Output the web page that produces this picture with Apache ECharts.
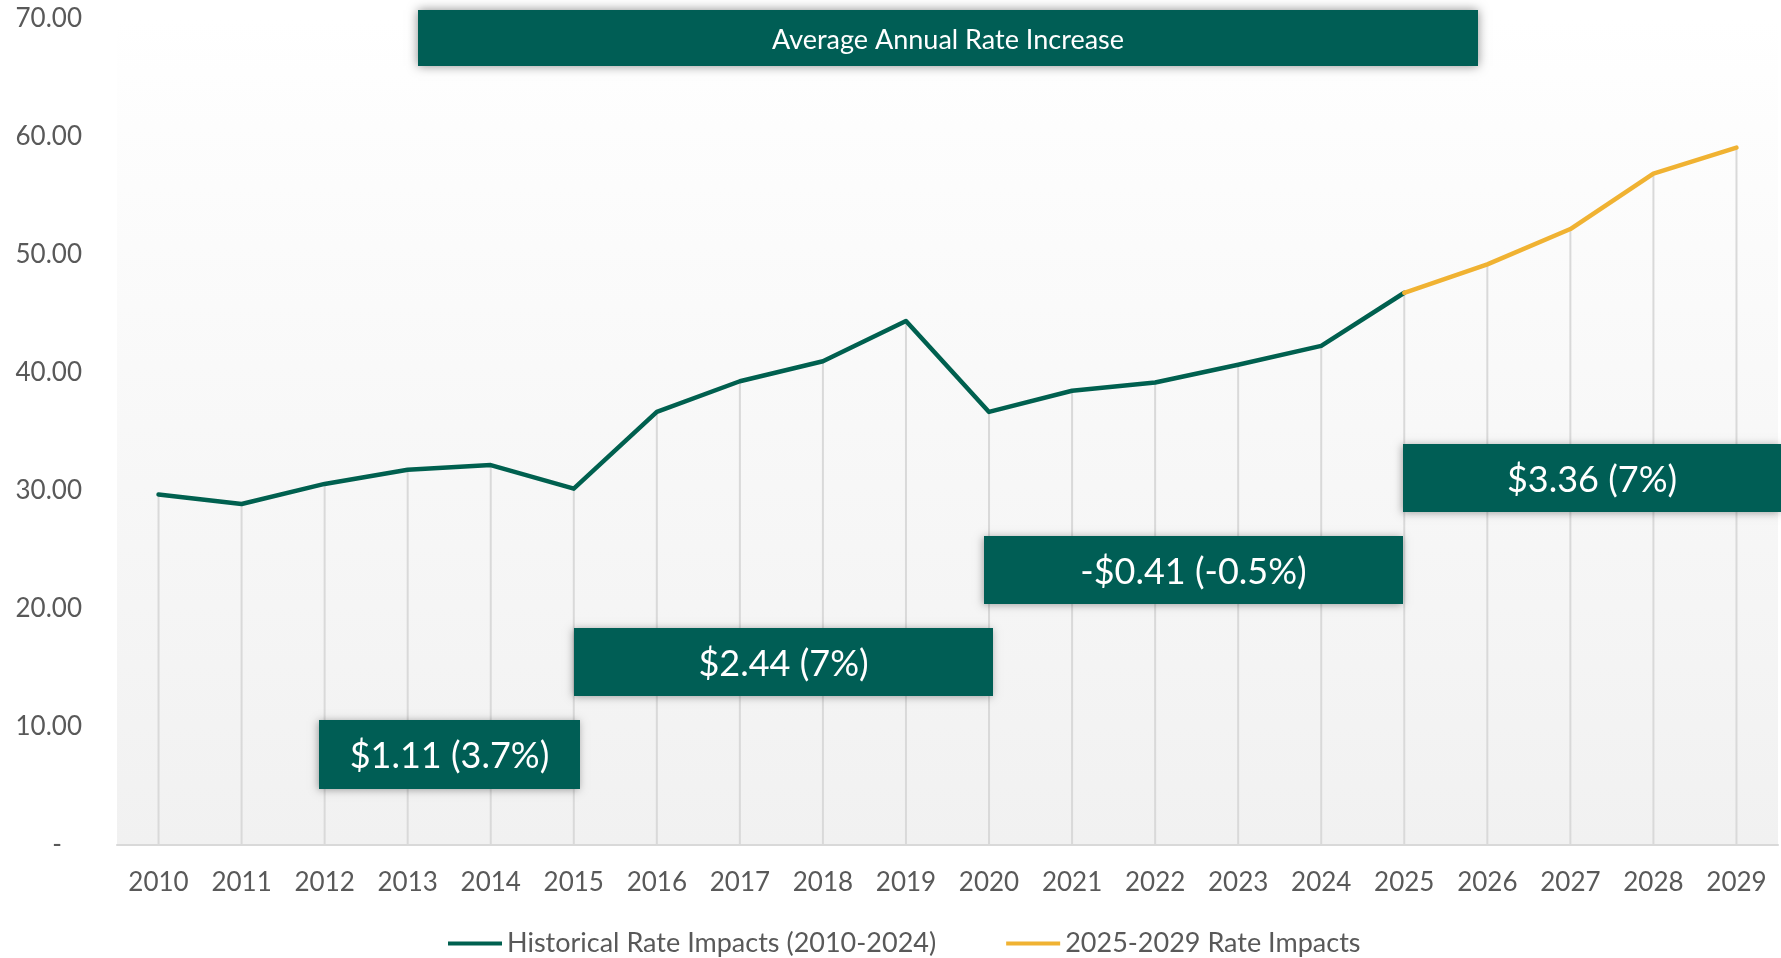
<!DOCTYPE html>
<html>
<head>
<meta charset="utf-8">
<script src="https://cdn.jsdelivr.net/npm/echarts@6/dist/echarts.min.js"></script>
<style>
  html, body { margin: 0; padding: 0; background: #fff; }
  #chart { width: 1781px; height: 958px; }
</style>
</head>
<body>
<div id="chart"></div>
<script>
// categories and values
const years = ['2010', '2011', '2012', '2013', '2014', '2015', '2016', '2017', '2018', '2019',
  '2020', '2021', '2022', '2023', '2024', '2025', '2026', '2027', '2028', '2029']
// historical line runs 2010..2025 (joins the projection at 2025)
const historical = [29.7, 28.9, 30.6, 31.8, 32.2, 30.2, 36.7, 39.3, 41.0, 44.4,
  36.7, 38.5, 39.2, 40.7, 42.3, 46.8]
// projected line 2025..2029
const projected = [46.8, 49.2, 52.2, 56.9, 59.1]
const yTicks = [0, 10, 20, 30, 40, 50, 60, 70]
const seriesNames = ['Historical Rate Impacts (2010-2024)', '2025-2029 Rate Impacts']
const titleText = 'Average Annual Rate Increase'
const boxLabels = ['$1.11 (3.7%)', '$2.44 (7%)', '-$0.41 (-0.5%)', '$3.36 (7%)']

const GREEN = '#00604f'
const BOX = '#005e55'
const ORANGE = '#f0b232'
const FONT = 'Lato, "Open Sans", sans-serif'

const histData = years.map((y, i) => i < historical.length ? historical[i] : '-')
const projStart = years.length - projected.length
const projData = years.map((y, i) => i >= projStart ? projected[i - projStart] : '-')
const allValues = years.map((y, i) => i >= projStart ? projected[i - projStart] : historical[i])

// box placement (pixels): x, y, w, h
const boxRects = [
  [319, 720, 261, 69],
  [574, 628, 419, 68],
  [984, 536, 419, 68],
  [1403, 444, 378, 68]
]

const chart = echarts.init(document.getElementById('chart'))

const boxShadow = { shadowBlur: 8, shadowColor: 'rgba(0,0,0,0.35)', shadowOffsetX: -1, shadowOffsetY: 1 }

const graphics = [
  {
    type: 'rect',
    shape: { x: 418, y: 10, width: 1060, height: 56 },
    style: { fill: BOX, shadowBlur: 10, shadowColor: 'rgba(0,0,0,0.45)' },
    z: 100
  },
  {
    type: 'text',
    x: 948, y: 40,
    style: { text: titleText, fill: '#fff', font: '27px ' + FONT, textAlign: 'center', textVerticalAlign: 'middle' },
    z: 101
  }
]
boxRects.forEach((r, i) => {
  graphics.push({
    type: 'rect',
    shape: { x: r[0], y: r[1], width: r[2], height: r[3] },
    style: Object.assign({ fill: BOX }, boxShadow),
    z: 100
  })
  graphics.push({
    type: 'text',
    x: r[0] + r[2] / 2, y: r[1] + r[3] / 2 + 2,
    style: { text: boxLabels[i], fill: '#fff', font: '36px ' + FONT, textAlign: 'center', textVerticalAlign: 'middle' },
    z: 101
  })
})

const option = {
  animation: false,
  backgroundColor: '#fff',
  textStyle: { fontFamily: FONT },
  grid: {
    left: 117, right: 3, top: 19, bottom: 113,
    show: true,
    borderWidth: 0,
    backgroundColor: new echarts.graphic.LinearGradient(0, 0, 0, 1, [
      { offset: 0, color: '#ffffff' },
      { offset: 0.13, color: '#fdfdfd' },
      { offset: 1, color: '#f1f1f1' }
    ])
  },
  legend: {
    data: seriesNames,
    left: 443,
    top: 925,
    icon: 'rect',
    itemWidth: 54,
    itemHeight: 4,
    itemGap: 70,
    textStyle: { color: '#595959', fontSize: 27, fontFamily: FONT }
  },
  xAxis: {
    type: 'category',
    data: years,
    boundaryGap: true,
    axisLine: { lineStyle: { color: '#d9d9d9', width: 2 } },
    axisTick: { show: false },
    axisLabel: { color: '#595959', fontSize: 26, margin: 25, fontFamily: FONT },
    splitLine: { show: false }
  },
  yAxis: {
    type: 'value',
    min: yTicks[0],
    max: yTicks[yTicks.length - 1],
    interval: 10,
    axisLine: { show: false },
    axisTick: { show: false },
    splitLine: { show: false },
    axisLabel: {
      color: '#595959', fontSize: 26, margin: 35, fontFamily: FONT,
      formatter: v => v === 0 ? '-   ' : v.toFixed(2)
    }
  },
  graphic: graphics,
  series: [
    {
      // drop lines from each point to the axis
      name: 'drop',
      type: 'bar',
      data: allValues,
      barWidth: 2,
      silent: true,
      itemStyle: { color: '#d9d9d9' },
      z: 1
    },
    {
      name: seriesNames[0],
      type: 'line',
      data: histData,
      symbol: 'none',
      lineStyle: { color: GREEN, width: 4.5, cap: 'round', join: 'round' },
      itemStyle: { color: GREEN },
      z: 3
    },
    {
      name: seriesNames[1],
      type: 'line',
      data: projData,
      symbol: 'none',
      lineStyle: { color: ORANGE, width: 4.5, cap: 'round', join: 'round' },
      itemStyle: { color: ORANGE },
      z: 4
    }
  ]
}

chart.setOption(option)
window.addEventListener('resize', () => chart.resize())
</script>
</body>
</html>
